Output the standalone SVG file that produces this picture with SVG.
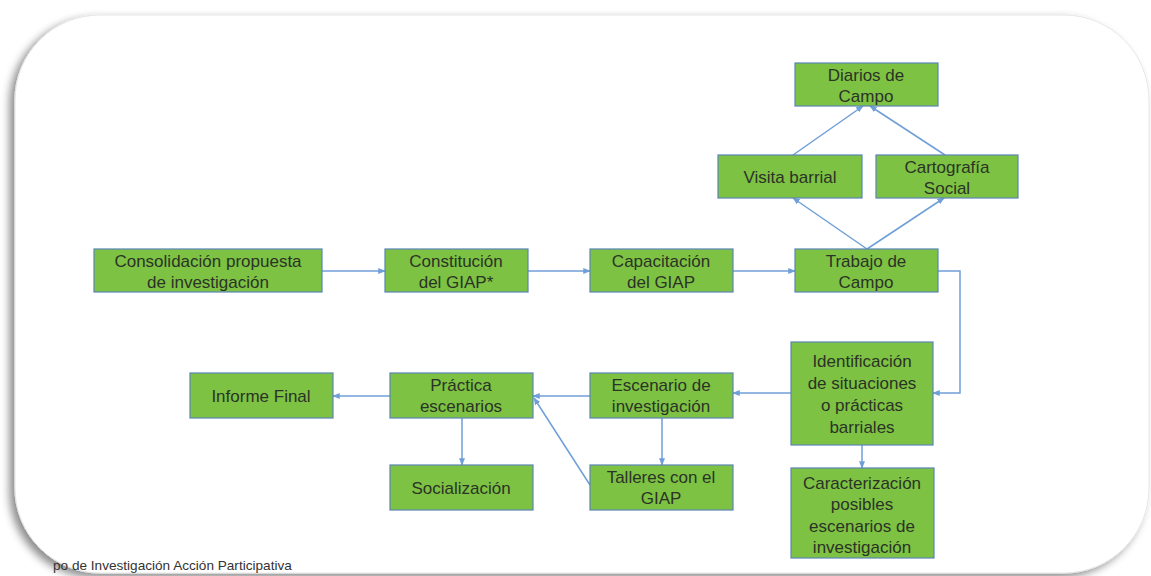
<svg xmlns="http://www.w3.org/2000/svg" width="1151" height="576" viewBox="0 0 1151 576">
<style>
.n rect{fill:#7dc242;stroke:#5a84b5;stroke-width:1.2}
.n text{font-family:"Liberation Sans",Arial,sans-serif;font-size:17px;fill:#2b3327;text-anchor:middle}
.c line,.c polyline{stroke:#6f9fd8;stroke-width:1.5;fill:none;marker-end:url(#ah)}
.foot{font-family:"Liberation Sans",Arial,sans-serif;font-size:13.6px;fill:#333}
</style>
<defs>
<marker id="ah" viewBox="0 0 10 10" refX="9" refY="5" markerWidth="5" markerHeight="5" orient="auto" markerUnits="strokeWidth">
<path d="M0,1 L10,5 L0,9 Z" fill="#6f9fd8"/>
</marker>
<filter id="sh" x="-5%" y="-5%" width="110%" height="115%">
<feDropShadow dx="-5" dy="4" stdDeviation="4" flood-color="#000" flood-opacity="0.45"/>
</filter>
</defs>
<rect width="1151" height="576" fill="#fff"/>
<rect x="15" y="15" width="1134" height="558" rx="85" ry="85" fill="#fff" stroke="#e6e6e6" stroke-width="1" filter="url(#sh)"/>

<g class="c" id="connectors">
<line x1="322" y1="271" x2="385" y2="271"/>
<line x1="528" y1="271" x2="590" y2="271"/>
<line x1="733" y1="271" x2="795" y2="271"/>
<polyline points="938,271 960,271 960,393 933,393"/>
<line x1="791" y1="393" x2="733" y2="393"/>
<line x1="590" y1="396" x2="533" y2="396"/>
<line x1="590" y1="485" x2="534" y2="398"/>
<line x1="662" y1="418" x2="662" y2="465"/>
<line x1="462" y1="418" x2="462" y2="465"/>
<line x1="390" y1="396" x2="333" y2="396"/>
<line x1="862" y1="445" x2="862" y2="468"/>
<line x1="867" y1="249" x2="793" y2="198"/>
<line x1="867" y1="249" x2="944" y2="198"/>
<line x1="793" y1="155" x2="863" y2="106"/>
<line x1="945" y1="155" x2="870" y2="106"/>
</g>

<g class="n" id="consolidacion"><rect x="94" y="249" width="228" height="43"/><text x="208" y="267">Consolidación propuesta</text><text x="208" y="288">de investigación</text></g>
<g class="n" id="constitucion"><rect x="385" y="249" width="143" height="43"/><text x="456" y="267">Constitución</text><text x="456" y="288">del GIAP*</text></g>
<g class="n" id="capacitacion"><rect x="590" y="249" width="143" height="43"/><text x="661" y="267">Capacitación</text><text x="661" y="288">del GIAP</text></g>
<g class="n" id="trabajo"><rect x="795" y="249" width="143" height="43"/><text x="866" y="267">Trabajo de</text><text x="866" y="288">Campo</text></g>
<g class="n" id="diarios"><rect x="795" y="63" width="143" height="43"/><text x="866" y="81">Diarios de</text><text x="866" y="102">Campo</text></g>
<g class="n" id="visita"><rect x="718" y="155" width="144" height="43"/><text x="790" y="183">Visita barrial</text></g>
<g class="n" id="cartografia"><rect x="876" y="155" width="142" height="43"/><text x="947" y="173">Cartografía</text><text x="947" y="194">Social</text></g>
<g class="n" id="identificacion"><rect x="791" y="342" width="142" height="103"/><text x="862" y="367">Identificación</text><text x="862" y="389">de situaciones</text><text x="862" y="411">o prácticas</text><text x="862" y="433">barriales</text></g>
<g class="n" id="caracterizacion"><rect x="791" y="468" width="143" height="90"/><text x="862" y="489">Caracterización</text><text x="862" y="510">posibles</text><text x="862" y="532">escenarios de</text><text x="862" y="553">investigación</text></g>
<g class="n" id="escenario"><rect x="590" y="373" width="143" height="45"/><text x="661" y="391">Escenario de</text><text x="661" y="412">investigación</text></g>
<g class="n" id="practica"><rect x="390" y="373" width="143" height="45"/><text x="461" y="391">Práctica</text><text x="461" y="412">escenarios</text></g>
<g class="n" id="informe"><rect x="190" y="373" width="143" height="45"/><text x="261" y="402">Informe Final</text></g>
<g class="n" id="socializacion"><rect x="390" y="465" width="143" height="45"/><text x="461" y="494">Socialización</text></g>
<g class="n" id="talleres"><rect x="590" y="465" width="143" height="45"/><text x="661" y="483">Talleres con el</text><text x="661" y="504">GIAP</text></g>

<text class="foot" x="53" y="570">po de Investigación Acción Participativa</text>
</svg>
